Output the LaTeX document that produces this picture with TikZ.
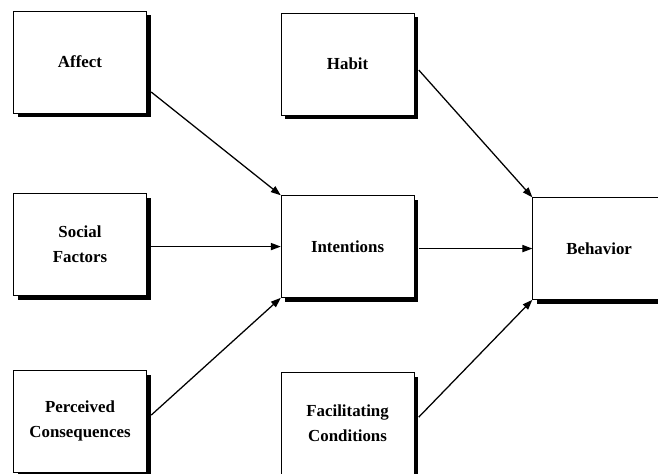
\documentclass[tikz,border=0pt]{standalone}
\usepackage{fontspec}
\setmainfont{Liberation Serif}
\usepackage{tikz}
\usetikzlibrary{arrows.meta, positioning, shadows, calc}

\begin{document}
\begin{tikzpicture}[auto, >={Triangle[length=2.5mm, width=1.8mm]}, every node/.style={font=\fontsize{12}{18}\selectfont\bfseries}]
            % box styles: white boxes with solid black shadow
            \tikzset{
                factor/.style={rectangle, draw, fill=white, minimum width=3.325cm, minimum height=2.55cm,
                    align=center, inner sep=2pt, line width=0.4pt,
                    drop shadow={shadow xshift=0.11cm, shadow yshift=-0.11cm, fill=black, opacity=1}},
                link/.style={->, line width=0.9pt}
            }
            \useasboundingbox (0,0) rectangle (16.45,-11.825);
            % left column
            \node[factor] (affect) at (2.0,-1.55) {Affect};
            \node[factor, below=2.0cm of affect] (social) {Social\\Factors};
            \node[factor, below=1.85cm of social] (perceived) {Perceived\\Consequences};
            % middle column
            \node[factor, right=3.35cm of social, yshift=-0.05cm] (intentions) {Intentions};
            \node[factor, above=2.0cm of intentions] (habit) {Habit};
            \node[factor, below=1.85cm of intentions] (facil) {Facilitating\\Conditions};
            % right column (runs off the page)
            \node[factor, right=2.95cm of intentions, yshift=-0.05cm] (behavior) {Behavior};
            % arrows into intentions (horizontal ones kept level)
            \draw[link] ([shift={(0.11,-0.75)}]affect.east) -- (intentions.north west);
            \draw[link] ([xshift=0.11cm]intentions.west -| social.east) -- (intentions.west);
            \draw[link] ([shift={(0.11,0.15)}]perceived.east) -- (intentions.south west);
            % arrows into behavior
            \draw[link] ([shift={(0.11,-0.15)}]habit.east) -- (behavior.north west);
            \draw[link] ([xshift=0.11cm]behavior.west -| intentions.east) -- (behavior.west);
            \draw[link] ([shift={(0.11,0.15)}]facil.east) -- (behavior.south west);
        \end{tikzpicture}
\end{document}
